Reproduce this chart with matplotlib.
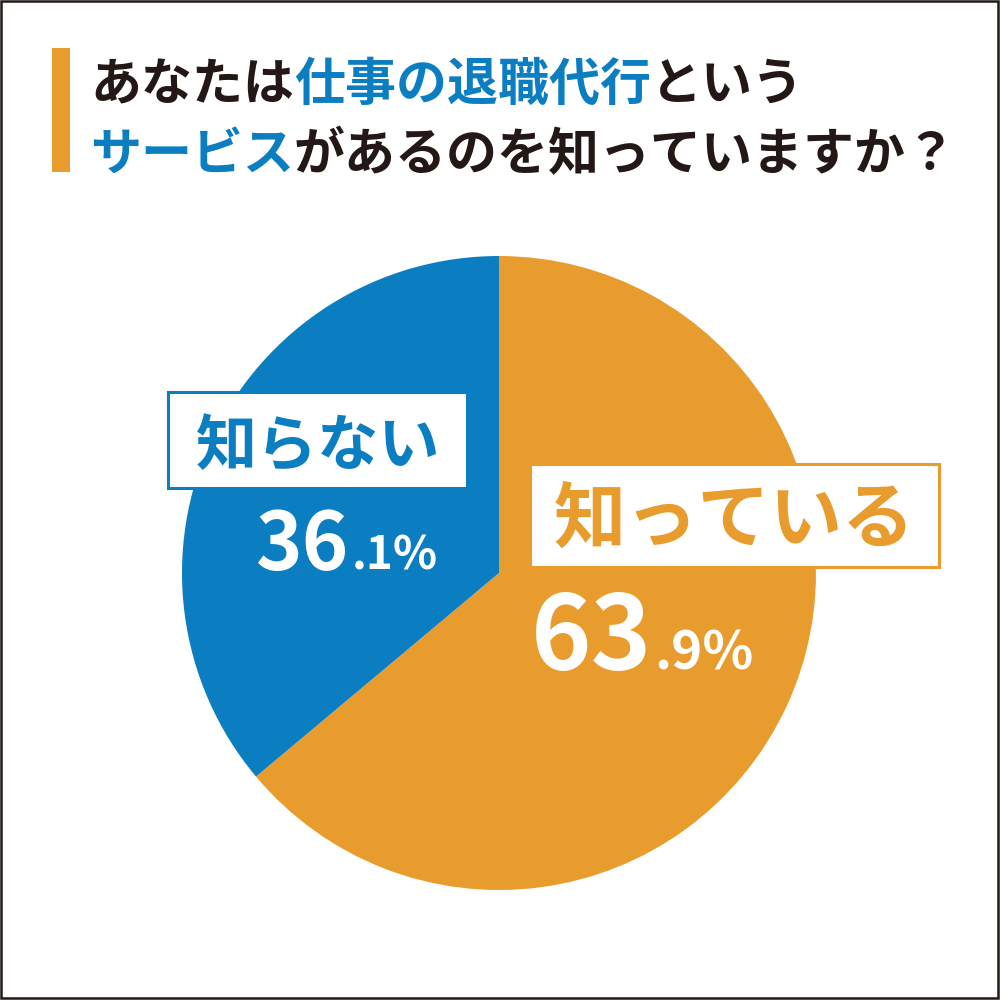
import matplotlib
matplotlib.use("Agg")
import matplotlib.pyplot as plt
from matplotlib.patches import Rectangle

plt.rcParams['font.family'] = ['Noto Sans CJK JP', 'DejaVu Sans']

# ---- data ----
categories = ['知っている', '知らない']
values = [63.9, 36.1]
title_line1 = [('あなたは', 'dark'), ('仕事の退職代行', 'blue'), ('という', 'dark')]
title_line2 = [('サービス', 'blue'), ('があるのを知っていますか？', 'dark')]

ORANGE = '#E99C2E'
BLUE = '#0B7EC2'
DARK = '#231815'
cmap = {'dark': DARK, 'blue': BLUE}

fig = plt.figure(figsize=(10, 10), dpi=100)
fig.patch.set_facecolor('white')

# pie axes: centre (499,573) px, radius 317 px (top-left origin)
cx, cy, r = 499, 573, 317
axp = fig.add_axes([(cx - r) / 1000, (1000 - cy - r) / 1000, 2 * r / 1000, 2 * r / 1000])
axp.pie(values, colors=[ORANGE, BLUE], startangle=90, counterclock=False,
        radius=1.0, wedgeprops=dict(linewidth=0))
axp.set_xlim(-1, 1)
axp.set_ylim(-1, 1)
axp.set_aspect('equal')
axp.axis('off')

# overlay axes in pixel coordinates
ax = fig.add_axes([0, 0, 1, 1], zorder=5)
ax.set_xlim(0, 1000)
ax.set_ylim(1000, 0)
ax.axis('off')
ax.patch.set_alpha(0)

# frame
ax.add_patch(Rectangle((1, 1), 997, 997, fill=False, edgecolor=DARK, linewidth=1.8))
# orange title bar
ax.add_patch(Rectangle((52, 48), 18, 124, facecolor=ORANGE, edgecolor='none'))

fig.canvas.draw()
renderer = fig.canvas.get_renderer()
inv = ax.transData.inverted()


def draw_segments(segments, x0, baseline, size):
    x = x0
    for txt, c in segments:
        t = ax.text(x, baseline, txt, fontsize=size, fontweight='bold', color=cmap[c],
                    ha='left', va='baseline')
        bb = t.get_window_extent(renderer=renderer)
        x = inv.transform((bb.x1, bb.y0))[0]


title_pt = 36.7
draw_segments(title_line1, 90, 100, title_pt)
draw_segments(title_line2, 90, 170, title_pt)

# label boxes
boxes = {
    '知らない': dict(rect=(168, 392, 299, 96), color=BLUE, size=44, tx=318, base=465),
    '知っている': dict(rect=(530, 464, 409, 103), color=ORANGE, size=52, tx=734, base=542),
}
for cat in categories:
    b = boxes[cat]
    x, y, w, h = b['rect']
    ax.add_patch(Rectangle((x, y), w, h, facecolor='white', edgecolor=b['color'], linewidth=2.2))
    ax.text(b['tx'], b['base'], cat, fontsize=b['size'], fontweight='bold',
            color=b['color'], ha='center', va='baseline')

# percentages
pct_pos = {
    '知らない': dict(x=256, base=570, big=57, small=33),
    '知っている': dict(x=531, base=670, big=74, small=38),
}
for cat, v in zip(categories, values):
    p = pct_pos[cat]
    s = f"{v:.1f}"
    ip, dp = s.split('.')
    t = ax.text(p['x'], p['base'], ip, fontsize=p['big'], fontweight='bold',
                color='white', ha='left', va='baseline')
    bb = t.get_window_extent(renderer=renderer)
    xe = inv.transform((bb.x1, bb.y0))[0]
    ax.text(xe + 2, p['base'], '.' + dp + '%', fontsize=p['small'], fontweight='bold',
            color='white', ha='left', va='baseline')

fig.savefig('out.png', dpi=100, facecolor='white')
